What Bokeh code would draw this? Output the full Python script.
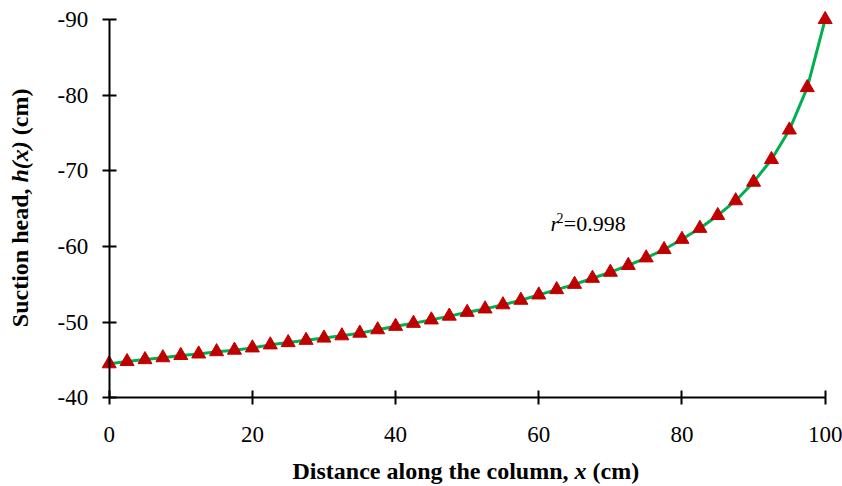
import math

from bokeh.plotting import figure
from bokeh.models import Range1d, FixedTicker, Label, ColumnDataSource
from bokeh.embed import file_html
from bokeh.resources import INLINE

# Measured suction head along the soil column
distance_cm = [0, 2.5, 5, 7.5, 10, 12.5, 15, 17.5, 20, 22.5,
               25, 27.5, 30, 32.5, 35, 37.5, 40, 42.5, 45, 47.5,
               50, 52.5, 55, 57.5, 60, 62.5, 65, 67.5, 70, 72.5,
               75, 77.5, 80, 82.5, 85, 87.5, 90, 92.5, 95, 97.5, 100]
suction_head_cm = [-44.5, -44.8, -45.05, -45.3, -45.6, -45.8, -46.1, -46.3, -46.6, -47.0,
                   -47.3, -47.6, -47.9, -48.2, -48.55, -49.0, -49.45, -49.85, -50.3, -50.8,
                   -51.3, -51.75, -52.3, -52.9, -53.6, -54.3, -55.0, -55.8, -56.6, -57.5,
                   -58.5, -59.6, -60.95, -62.4, -64.1, -66.05, -68.5, -71.5, -75.4, -81.0, -90.0]

x_ticks = [0, 20, 40, 60, 80, 100]
y_ticks = [-40, -50, -60, -70, -80, -90]
r_squared = "0.998"

SERIF = "Liberation Serif"
GREEN = "#00B050"
RED = "#C00000"

source = ColumnDataSource(dict(x=distance_cm, h=suction_head_cm))

# The frame spans the whole canvas; the axes sit at fixed data locations inside it.
p = figure(
    width=842, height=486,
    x_range=Range1d(-15.18, 102.42),
    y_range=Range1d(-28.28, -92.51),   # suction axis runs upward to more negative values
    output_backend="svg", toolbar_location=None,
    min_border=0, min_border_left=0, min_border_right=0,
    min_border_top=0, min_border_bottom=0,
)
p.background_fill_color = "white"
p.border_fill_color = "white"
p.outline_line_color = None
p.xgrid.visible = False
p.ygrid.visible = False

for ax, ticks, loc, bnds in ((p.xaxis, x_ticks, -40, (0, 100)),
                             (p.yaxis, y_ticks, 0, (-90, -40))):
    ax.ticker = FixedTicker(ticks=ticks)
    ax.major_label_overrides = {t: str(t) for t in ticks}   # plain hyphen minus
    ax.fixed_location = loc
    ax.bounds = bnds
    ax.axis_line_color = "black"
    ax.axis_line_width = 2
    ax.major_tick_line_color = "black"
    ax.major_tick_line_width = 2
    ax.major_tick_in = 7
    ax.major_tick_out = 7
    ax.minor_tick_line_color = None
    ax.major_label_text_font = SERIF
    ax.major_label_text_font_size = "23px"
    ax.major_label_text_color = "black"

p.xaxis.major_label_standoff = 22
p.yaxis.major_label_standoff = 14

# fitted curve and measured points
p.line("x", "h", source=source, line_color=GREEN, line_width=3)
p.scatter("x", "h", source=source, marker="triangle", size=14,
          fill_color=RED, line_color=RED, line_width=1)

# titles are built from pieces so the variables can be italic
def add_text(txt, x, y, size, style, angle=0.0):
    p.add_layout(Label(x=x, y=y, x_units="screen", y_units="screen", text=txt,
                       text_font=SERIF, text_font_size=size, text_font_style=style,
                       text_color="black", text_align="left",
                       text_baseline="alphabetic", angle=angle))

# x title
add_text("Distance along the column,", 292, 15.7, "24px", "bold")
add_text("x", 574, 15.7, "24px", "bold italic")
add_text("(cm)", 592, 15.7, "24px", "bold")

# y title (rotated, reading upward)
add_text("Suction head,", 19, 159.3, "24px", "bold", math.pi / 2)
add_text("h(x)", 19, 304.0, "24px", "bold italic", math.pi / 2)
add_text("(cm)", 19, 351.3, "24px", "bold", math.pi / 2)

# goodness of fit
add_text("r", 550, 263, "22px", "italic")
add_text("2", 556, 269, "14px", "normal")
add_text("=" + r_squared, 563.3, 263, "22px", "normal")

open("out.html", "w").write(file_html(p, INLINE))
